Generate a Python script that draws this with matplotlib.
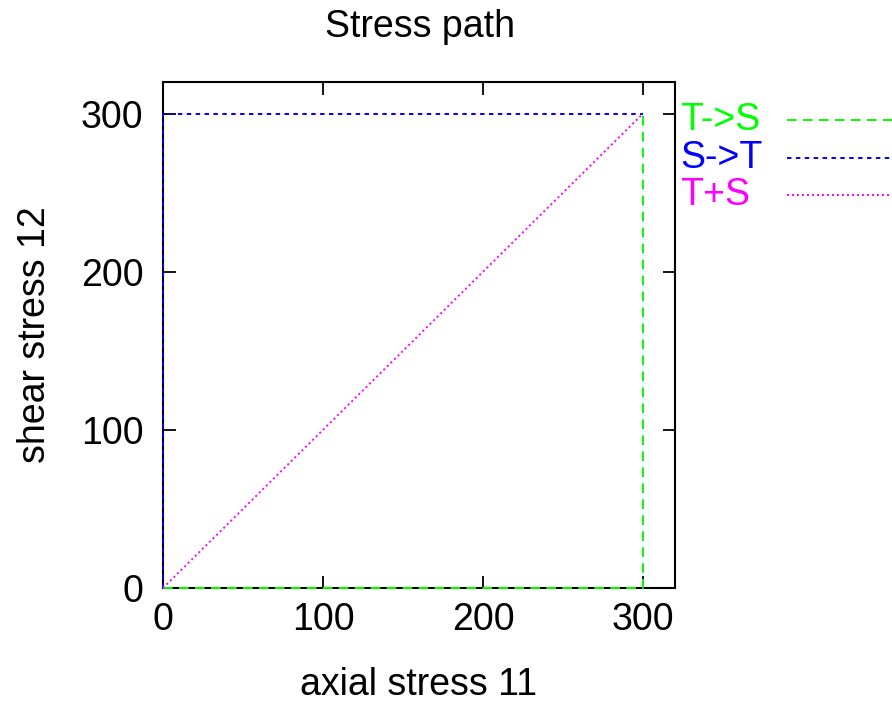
import matplotlib
matplotlib.use("Agg")
import matplotlib.pyplot as plt
from matplotlib.lines import Line2D

plt.rcParams['font.family'] = ['Liberation Sans', 'DejaVu Sans']
plt.rcParams['lines.scale_dashes'] = False

# stress paths (axial 11, shear 12)
ts_x = [0, 300, 300]
ts_y = [0, 0, 300]
st_x = [0, 0, 300]
st_y = [0, 300, 300]
tps_x = [0, 300]
tps_y = [0, 300]
labels = ['T->S', 'S->T', 'T+S']
colors = ['#00ff00', '#0000ff', '#ff00ff']
styles = [(0, (7, 4.5)), (0, (3.2, 3.2)), (0, (1.4, 2.2))]
ticks = [0, 100, 200, 300]

W, H = 892, 703
fig = plt.figure(figsize=(W / 100, H / 100), dpi=100)
ax = fig.add_axes([163 / W, 1 - 588 / H, 512 / W, 506 / H])

paths = [(ts_x, ts_y), (st_x, st_y), (tps_x, tps_y)]
for (x, y), c, ls in zip(paths, colors, styles):
    ax.plot(x, y, color=c, lw=1.4, linestyle=ls, clip_on=False, zorder=3)

ax.set_xlim(0, 320)
ax.set_ylim(0, 320)
ax.set_xticks(ticks)
ax.set_yticks(ticks)
ax.tick_params(direction='in', length=9, width=1.3, labelsize=27, top=True, right=True)
ax.tick_params(axis='x', pad=10)
ax.tick_params(axis='y', pad=14)
for s in ax.spines.values():
    s.set_linewidth(1.5)

ax.set_xlabel('axial stress 11', fontsize=27, labelpad=21)
ax.set_ylabel('shear stress 12', fontsize=27, labelpad=20)
fig.text(420 / W, 1 - 27 / H, 'Stress path', fontsize=27, ha='center', va='center')

# key outside the plot, text left aligned
for i, (lab, c, ls) in enumerate(zip(labels, colors, styles)):
    yk = 1 - (120 + 37.5 * i) / H
    fig.text(680 / W, yk, lab, fontsize=27, color=c, ha='left', va='center')
    fig.add_artist(Line2D([787 / W, 1.0], [yk, yk], transform=fig.transFigure,
                          color=c, lw=1.4, linestyle=ls))

fig.savefig('out.png', dpi=100)
